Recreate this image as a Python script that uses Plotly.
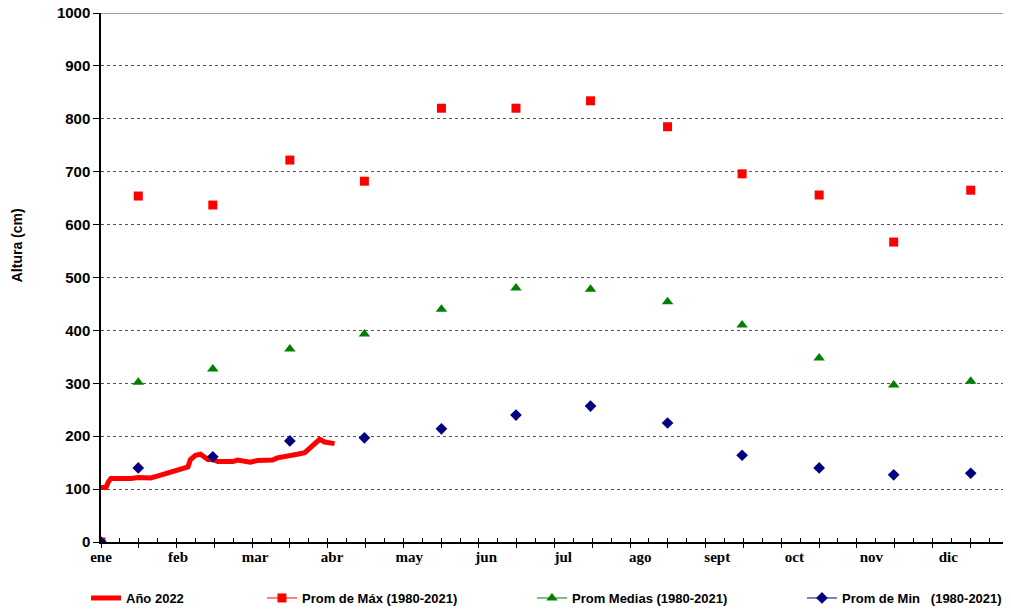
import plotly.graph_objects as go

# Año 2022 (día del año, altura en cm)
dias_2022 = [0, 2, 3, 4, 6, 9, 12, 15, 18, 20, 23, 25, 28, 31, 33, 35, 36, 38, 40, 42,
             43, 45, 47, 51, 53, 55, 57, 60, 63, 66, 69, 71, 74, 76, 79, 82, 84, 86, 88, 90,
             92, 94]
nivel_2022 = [103, 103, 114, 120, 120, 119, 120, 122, 121, 121, 125, 128, 132, 135, 138, 142, 156, 164, 166, 161,
              156, 156, 152, 152, 152, 155, 154, 151, 154, 155, 155, 159, 161, 162, 166, 169, 177, 186, 194, 189,
              187, 186]

# promedios mensuales 1980-2021 (primer punto = 0 en el origen)
dias_prom = [0, 15, 45, 76, 106, 137, 167, 197, 228, 258, 289, 319, 350]
prom_max = [0, 654, 637, 722, 682, 820, 820, 834, 785, 696, 656, 567, 665]
prom_med = [0, 302, 327, 365, 393, 440, 480, 478, 454, 410, 348, 297, 304]
prom_min = [0, 140, 161, 191, 197, 214, 240, 257, 225, 164, 140, 127, 130]

meses = ["ene", "feb", "mar", "abr", "may", "jun", "jul", "ago", "sept", "oct", "nov", "dic"]
dias_meses = [0, 31, 62, 93, 124, 155, 186, 217, 248, 279, 310, 341]


def sin_lineas(xs, ys):
    # separa los puntos con None para que no se unan con linea
    gx, gy = [], []
    for a, b in zip(xs, ys):
        gx += [a, None]
        gy += [b, None]
    return gx, gy


fig = go.Figure()

fig.add_trace(go.Scatter(x=dias_2022, y=nivel_2022, mode="lines", name="Año 2022",
                         line=dict(color="#FF0000", width=5), legend="legend"))

series = [
    (prom_max, "Prom de Máx (1980-2021)", "#FF0000", "square", 9, "legend2"),
    (prom_med, "Prom Medias (1980-2021)", "#008000", "triangle-up", 10, "legend3"),
    (prom_min, "Prom de Min\u00a0\u00a0\u00a0(1980-2021)", "#000080", "diamond", 9, "legend4"),
]
for vals, nombre, color, simbolo, tam, leg in series:
    gx, gy = sin_lineas(dias_prom, vals)
    fig.add_trace(go.Scatter(x=gx, y=gy, mode="lines+markers", name=nombre,
                             connectgaps=False,
                             line=dict(color=color, width=1),
                             marker=dict(color=color, symbol=simbolo, size=tam),
                             legend=leg))

# eje auxiliar solo para las marcas de graduacion
fig.add_trace(go.Scatter(x=[], y=[], xaxis="x2", showlegend=False))

ley = dict(orientation="h", xref="container", yref="container", yanchor="middle", y=0.0199,
           xanchor="left",
           font=dict(family="Liberation Sans", size=13, color="black", weight="bold"),
           bgcolor="rgba(0,0,0,0)")

# la pagina deja 8px de margen, la figura se hace un poco mas chica
fig.update_layout(
    width=1003, height=602,
    margin=dict(l=93, r=3, t=5, b=68),
    paper_bgcolor="white", plot_bgcolor="white",
    font=dict(family="Liberation Sans", color="black"),
    xaxis=dict(range=[0, 365], tickvals=dias_meses, ticktext=meses, ticks="", automargin=False,
               ticklabeloverflow="allow",
               showgrid=False, zeroline=False, showline=True, linecolor="black", linewidth=1.5,
               tickfont=dict(family="Liberation Serif", size=15, color="black", weight="bold")),
    xaxis2=dict(overlaying="x", matches="x", anchor="y", side="bottom", showticklabels=False,
                showgrid=False, zeroline=False, showline=False, automargin=False,
                tick0=0, dtick=365 / 24, ticks="outside", ticklen=5, tickcolor="black",
                minor=dict(ticks="inside", dtick=365 / 48, ticklen=4, tickcolor="black", showgrid=False)),
    yaxis=dict(range=[0, 1000], dtick=100, ticks="outside", ticklen=6, tickcolor="black",
               showline=True, linecolor="black", linewidth=1.5, zeroline=False, automargin=False,
               ticklabeloverflow="allow",
               showgrid=True, gridcolor="#555555", griddash="dot", gridwidth=1,
               tickfont=dict(family="Liberation Sans", size=15, color="black", weight="bold")),
    showlegend=True,
    legend=dict(ley, x=0.0778),
    legend2=dict(ley, x=0.2532),
    legend3=dict(ley, x=0.5224),
    legend4=dict(ley, x=0.7916),
)

fig.add_shape(type="line", xref="paper", yref="y", x0=0, x1=1, y0=1000, y1=1000,
              line=dict(color="#808080", width=1.5))

# titulo del eje y
fig.add_annotation(text="Altura (cm)", xref="paper", yref="paper", x=-0.0926, y=0.561,
                   textangle=-90, showarrow=False, xanchor="center", yanchor="middle",
                   font=dict(family="Liberation Sans", size=14, color="black", weight="bold"))

# titulo (cortado arriba, como en el original)
fig.add_annotation(text="AÑO 2022", xref="paper", yref="paper", x=0.485, y=1, xanchor="center",
                   yanchor="bottom", yshift=-2, showarrow=False,
                   font=dict(family="Liberation Sans", size=24, color="#FF0000", weight="bold"))

fig.write_html("out.html")
